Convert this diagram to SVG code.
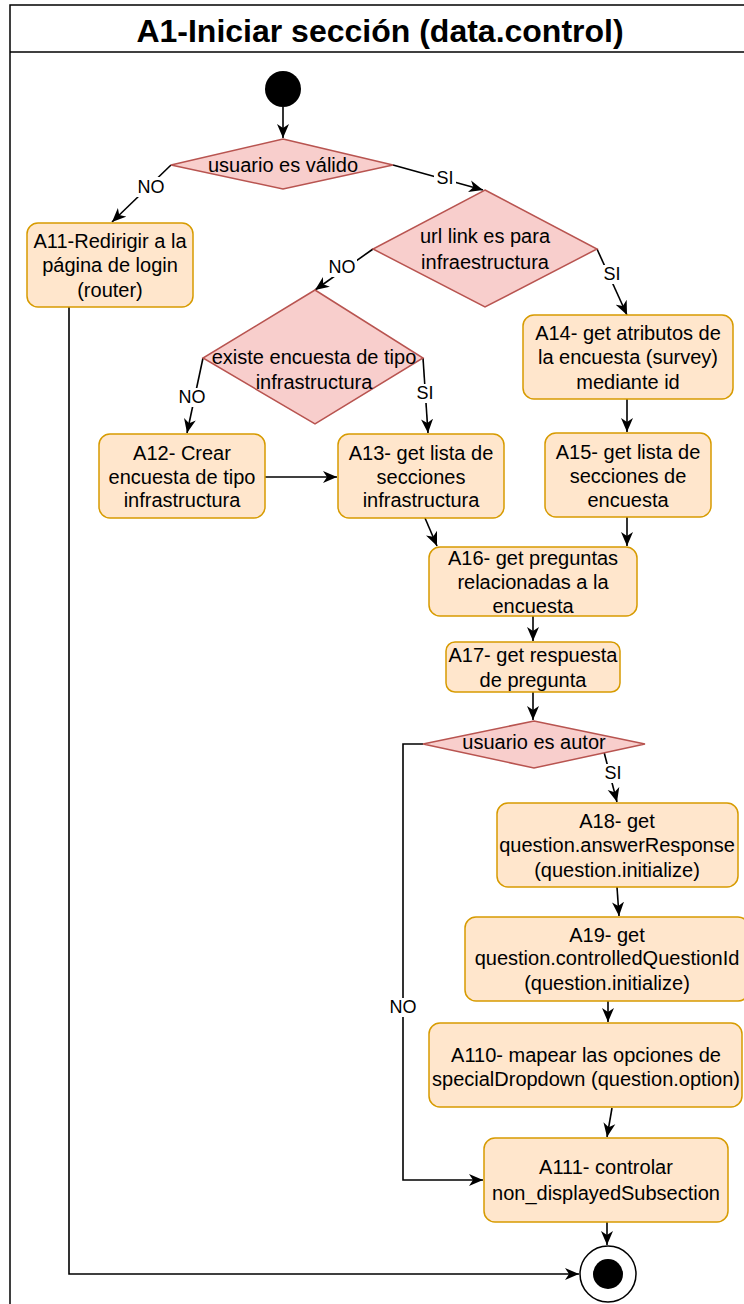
<svg xmlns="http://www.w3.org/2000/svg" width="744" height="1304" viewBox="0 0 744 1304">
<style>
.box{fill:#ffe6cc;stroke:#d79b00;stroke-width:1.5}
.dia{fill:#f8cecc;stroke:#b85450;stroke-width:1.5}
.t{font-family:"Liberation Sans",Arial,sans-serif;font-size:20px;fill:#000;text-anchor:middle}
.lbl{font-family:"Liberation Sans",Arial,sans-serif;font-size:18px;fill:#000;text-anchor:middle}
.e{fill:none;stroke:#000;stroke-width:1.6}
.lb{fill:#fff}
</style>
<defs>
<marker id="arr" markerUnits="userSpaceOnUse" markerWidth="15" markerHeight="13" viewBox="0 0 15 13" refX="14" refY="6.5" orient="auto">
<path d="M0,0.5 L14,6.5 L0,12.5 L4,6.5 z" fill="#000"/>
</marker>
</defs>
<rect x="0" y="0" width="744" height="1304" fill="#fff"/>
<g id="frame">
<rect x="10" y="5" width="742" height="1320" fill="#fff" stroke="#000" stroke-width="1.5"/>
<line x1="10" y1="52" x2="752" y2="52" stroke="#000" stroke-width="1.5"/>
<text x="380" y="42" font-family="Liberation Sans,Arial,sans-serif" font-size="32" font-weight="bold" text-anchor="middle" fill="#000">A1-Iniciar sección (data.control)</text>
</g>
<g id="connectors">
<path class="e" d="M283,107 L283,138" marker-end="url(#arr)"/>
<path class="e" d="M171,165 L112,222" marker-end="url(#arr)"/>
<path class="e" d="M393,165 L483,190" marker-end="url(#arr)"/>
<path class="e" d="M373,249 L315,290" marker-end="url(#arr)"/>
<path class="e" d="M597,249 L627,315" marker-end="url(#arr)"/>
<path class="e" d="M203,358 L187,433" marker-end="url(#arr)"/>
<path class="e" d="M423,358 L428,433" marker-end="url(#arr)"/>
<path class="e" d="M265,477 L337,477" marker-end="url(#arr)"/>
<path class="e" d="M627,399 L627,432" marker-end="url(#arr)"/>
<path class="e" d="M425,518 L437,546" marker-end="url(#arr)"/>
<path class="e" d="M627,517 L627,546" marker-end="url(#arr)"/>
<path class="e" d="M533,616 L533,641" marker-end="url(#arr)"/>
<path class="e" d="M533,692 L533,720" marker-end="url(#arr)"/>
<path class="e" d="M423,744 L403,744 L403,1180 L483,1180" marker-end="url(#arr)"/>
<path class="e" d="M604,752 L617,802" marker-end="url(#arr)"/>
<path class="e" d="M617,887 L619,916" marker-end="url(#arr)"/>
<path class="e" d="M608,1001 L608,1022" marker-end="url(#arr)"/>
<path class="e" d="M612,1108 L607,1137" marker-end="url(#arr)"/>
<path class="e" d="M607,1222 L607,1245" marker-end="url(#arr)"/>
<path class="e" d="M69,307 L69,1274 L579,1274" marker-end="url(#arr)"/>
<rect class="lb" x="136" y="177" width="30" height="20"/>
<text class="lbl" x="151" y="193">NO</text>
<rect class="lb" x="434" y="168" width="22" height="19"/>
<text class="lbl" x="445" y="184">SI</text>
<rect class="lb" x="327" y="258" width="30" height="19"/>
<text class="lbl" x="342" y="273">NO</text>
<rect class="lb" x="602" y="265" width="20" height="19"/>
<text class="lbl" x="612" y="280">SI</text>
<rect class="lb" x="177" y="388" width="30" height="19"/>
<text class="lbl" x="192" y="403">NO</text>
<rect class="lb" x="415" y="384" width="20" height="19"/>
<text class="lbl" x="425" y="399">SI</text>
<rect class="lb" x="603" y="764" width="20" height="19"/>
<text class="lbl" x="613" y="779">SI</text>
<rect class="lb" x="388" y="998" width="30" height="19"/>
<text class="lbl" x="403" y="1013">NO</text>
</g>
<g id="start"><circle cx="283" cy="89" r="18" fill="#000"/></g>
<g id="d1">
<polygon class="dia" points="283,139 393,165 283,189 171,165"/>
<text class="t" x="283" y="172">usuario es válido</text>
</g>
<g id="d2">
<polygon class="dia" points="485,190 597,249 485,307 373,249"/>
<text class="t" x="485" y="243">url link es para</text>
<text class="t" x="485" y="269">infraestructura</text>
</g>
<g id="A11">
<rect class="box" x="27" y="223" width="166" height="84" rx="11"/>
<text class="t" x="110" y="248">A11-Redirigir a la</text>
<text class="t" x="110" y="272">página de login</text>
<text class="t" x="110" y="297">(router)</text>
</g>
<g id="d3">
<polygon class="dia" points="315,290 423,358 315,424 203,358"/>
<text class="t" x="314" y="364">existe encuesta de tipo</text>
<text class="t" x="314" y="389">infrastructura</text>
</g>
<g id="A14">
<rect class="box" x="523" y="315" width="210" height="84" rx="11"/>
<text class="t" x="628" y="340">A14- get atributos de</text>
<text class="t" x="628" y="364">la encuesta (survey)</text>
<text class="t" x="628" y="389">mediante id</text>
</g>
<g id="A12">
<rect class="box" x="99" y="434" width="166" height="84" rx="11"/>
<text class="t" x="182" y="460">A12- Crear</text>
<text class="t" x="182" y="484">encuesta de tipo</text>
<text class="t" x="182" y="507">infrastructura</text>
</g>
<g id="A13">
<rect class="box" x="338" y="434" width="166" height="84" rx="11"/>
<text class="t" x="421" y="460">A13- get lista de</text>
<text class="t" x="421" y="484">secciones</text>
<text class="t" x="421" y="507">infrastructura</text>
</g>
<g id="A15">
<rect class="box" x="545" y="433" width="166" height="84" rx="11"/>
<text class="t" x="628" y="459">A15- get lista de</text>
<text class="t" x="628" y="483">secciones de</text>
<text class="t" x="628" y="507">encuesta</text>
</g>
<g id="A16">
<rect class="box" x="429" y="547" width="208" height="69" rx="11"/>
<text class="t" x="533" y="565">A16- get preguntas</text>
<text class="t" x="533" y="589">relacionadas a la</text>
<text class="t" x="533" y="613">encuesta</text>
</g>
<g id="A17">
<rect class="box" x="446" y="642" width="174" height="50" rx="9"/>
<text class="t" x="533" y="662">A17- get respuesta</text>
<text class="t" x="533" y="687">de pregunta</text>
</g>
<g id="d4">
<polygon class="dia" points="534,721 645,744 534,768 423,744"/>
<text class="t" x="534" y="749">usuario es autor</text>
</g>
<g id="A18">
<rect class="box" x="497" y="803" width="241" height="84" rx="11"/>
<text class="t" x="617" y="828">A18- get</text>
<text class="t" x="617" y="852">question.answerResponse</text>
<text class="t" x="617" y="877">(question.initialize)</text>
</g>
<g id="A19">
<rect class="box" x="465" y="917" width="284" height="84" rx="11"/>
<text class="t" x="607" y="942">A19- get</text>
<text class="t" x="607" y="965">question.controlledQuestionId</text>
<text class="t" x="607" y="990">(question.initialize)</text>
</g>
<g id="A110">
<rect class="box" x="429" y="1023" width="313" height="84" rx="11"/>
<text class="t" x="586" y="1062">A110- mapear las opciones de</text>
<text class="t" x="586" y="1086">specialDropdown (question.option)</text>
</g>
<g id="A111">
<rect class="box" x="484" y="1138" width="244" height="84" rx="11"/>
<text class="t" x="606" y="1174">A111- controlar</text>
<text class="t" x="606" y="1200">non_displayedSubsection</text>
</g>
<g id="end">
<circle cx="608" cy="1274" r="28" fill="#fff" stroke="#000" stroke-width="1.5"/>
<circle cx="608" cy="1274" r="15" fill="#000"/>
</g>
</svg>
